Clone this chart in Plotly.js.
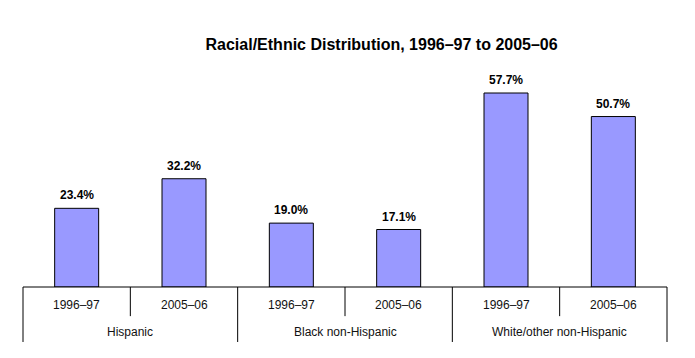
<!DOCTYPE html>
<html>
<head>
<meta charset="utf-8">
<script src="https://cdn.plot.ly/plotly-3.0.1.min.js"></script>
<style>html,body{margin:0;padding:0;background:#fff;}#chart{width:695px;height:358px;}</style>
</head>
<body>
<div id="chart"></div>
<script>
var years = ["1996–97", "2005–06", "1996–97", "2005–06", "1996–97", "2005–06"];
var groups = ["Hispanic", "Black non-Hispanic", "White/other non-Hispanic"];
var values = [23.4, 32.2, 19.0, 17.1, 57.7, 50.7];

var xs = values.map(function(v, i){ return i; });
var n = values.length;
var font = "Arial, 'Liberation Sans', sans-serif";

var trace = {
  type: "bar",
  x: xs,
  y: values,
  width: 0.41,
  marker: {color: "#9999FF", line: {color: "#000", width: 1}},
  hoverinfo: "skip"
};

var annotations = [];
values.forEach(function(v, i){
  annotations.push({x: i, y: v, xref: "x", yref: "y", text: "<b>" + v.toFixed(1) + "%</b>",
    showarrow: false, yanchor: "bottom", yshift: 4, font: {family: font, size: 12, color: "#000"}});
  annotations.push({x: i, y: -0.078, xref: "x", yref: "paper", text: years[i],
    showarrow: false, yanchor: "middle", font: {family: font, size: 12, color: "#111"}});
});
groups.forEach(function(g, j){
  annotations.push({x: 2*j + 0.5, y: -0.192, xref: "x", yref: "paper", text: g,
    showarrow: false, yanchor: "middle", font: {family: font, size: 12, color: "#111"}});
});

var shapes = [];
function px(x){ return (x + 0.5) / n; }
shapes.push({type: "line", xref: "paper", yref: "paper", x0: 0, x1: 1, y0: 0, y1: 0, line: {color: "#000", width: 1}});
[-0.5, 1.5, 3.5, 5.5].forEach(function(x){
  shapes.push({type: "line", xref: "paper", yref: "paper", x0: px(x), x1: px(x), y0: 0, y1: -0.236, line: {color: "#000", width: 1}});
});
[0.5, 2.5, 4.5].forEach(function(x){
  shapes.push({type: "line", xref: "paper", yref: "paper", x0: px(x), x1: px(x), y0: 0, y1: -0.125, line: {color: "#000", width: 1}});
});

var layout = {
  width: 695, height: 358,
  margin: {l: 23, r: 28, t: 54, b: 71},
  paper_bgcolor: "#fff", plot_bgcolor: "#fff",
  showlegend: false,
  title: {text: "<b>Racial/Ethnic Distribution, 1996–97 to 2005–06</b>",
    x: 387/695, xanchor: "center", xref: "paper", y: 1 - 44/358, yanchor: "middle", yref: "container",
    font: {family: font, size: 16, color: "#000"}},
  xaxis: {range: [-0.5, n - 0.5], showticklabels: false, showgrid: false, zeroline: false, showline: false, ticks: "", fixedrange: true},
  yaxis: {range: [0, 69.3], visible: false, showgrid: false, zeroline: false, fixedrange: true},
  annotations: annotations,
  shapes: shapes
};

Plotly.newPlot("chart", [trace], layout, {displayModeBar: false, staticPlot: true});
</script>
</body>
</html>
